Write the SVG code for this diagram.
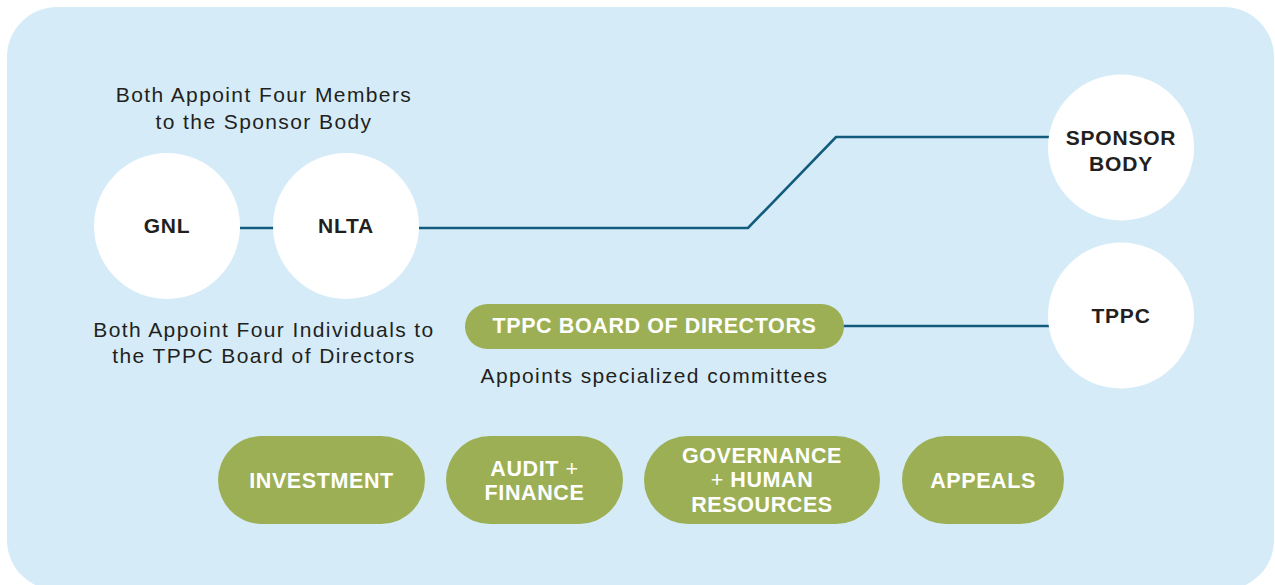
<svg xmlns="http://www.w3.org/2000/svg" width="1275" height="585" viewBox="0 0 1275 585">
<style>
.bg{fill:#d5ecf8}
.circ{fill:#ffffff}
.pill{fill:#9caf55}
.lbl{font-family:"Liberation Sans",Arial,sans-serif;font-weight:bold;font-size:21px;fill:#231f20;text-anchor:middle;letter-spacing:0.8px}
.plbl{font-family:"Liberation Sans",Arial,sans-serif;font-weight:bold;font-size:21.5px;fill:#ffffff;text-anchor:middle;letter-spacing:0.6px}
.note{font-family:"Liberation Sans",Arial,sans-serif;font-size:21px;fill:#231f20;text-anchor:middle;letter-spacing:1.4px}
.conn{fill:none;stroke:#125b7c;stroke-width:2.6}
</style>
<rect class="bg" x="7" y="7" width="1267" height="583" rx="50" ry="50"/>
<g id="connectors">
<line class="conn" x1="240" y1="228" x2="274" y2="228"/>
<polyline class="conn" points="419,228 748,228 836,137 1049,137"/>
<line class="conn" x1="843" y1="326" x2="1049" y2="326"/>
</g>
<g id="note-sponsor">
<text class="note" x="264" y="102">Both Appoint Four Members</text>
<text class="note" x="264" y="129">to the Sponsor Body</text>
</g>
<g id="note-board">
<text class="note" x="264" y="337">Both Appoint Four Individuals to</text>
<text class="note" x="264" y="363">the TPPC Board of Directors</text>
</g>
<g id="gnl">
<circle class="circ" cx="167" cy="226" r="73"/>
<text class="lbl" x="167" y="233">GNL</text>
</g>
<g id="nlta">
<circle class="circ" cx="346" cy="226" r="73"/>
<text class="lbl" x="346" y="233">NLTA</text>
</g>
<g id="sponsor-body">
<circle class="circ" cx="1121" cy="147.5" r="73"/>
<text class="lbl" x="1121" y="145">SPONSOR</text>
<text class="lbl" x="1121" y="171">BODY</text>
</g>
<g id="tppc">
<circle class="circ" cx="1121" cy="315.5" r="73"/>
<text class="lbl" x="1121" y="323">TPPC</text>
</g>
<g id="tppc-board">
<rect class="pill" x="465" y="304" width="379" height="45" rx="22.5" ry="22.5"/>
<text class="plbl" x="654.5" y="333" letter-spacing="0.9">TPPC BOARD OF DIRECTORS</text>
<text class="note" x="654.5" y="383">Appoints specialized committees</text>
</g>
<g id="investment">
<rect class="pill" x="218" y="436" width="207" height="88" rx="44" ry="44"/>
<text class="plbl" x="321.5" y="488">INVESTMENT</text>
</g>
<g id="audit-finance">
<rect class="pill" x="446" y="436" width="177" height="88" rx="44" ry="44"/>
<text class="plbl" x="534.5" y="476">AUDIT <tspan font-weight="normal">+</tspan></text>
<text class="plbl" x="534.5" y="500">FINANCE</text>
</g>
<g id="governance-hr">
<rect class="pill" x="644" y="436" width="236" height="88" rx="44" ry="44"/>
<text class="plbl" x="762" y="463">GOVERNANCE</text>
<text class="plbl" x="762" y="487"><tspan font-weight="normal">+</tspan> HUMAN</text>
<text class="plbl" x="762" y="512">RESOURCES</text>
</g>
<g id="appeals">
<rect class="pill" x="902" y="436" width="162" height="88" rx="44" ry="44"/>
<text class="plbl" x="983" y="488">APPEALS</text>
</g>
</svg>
